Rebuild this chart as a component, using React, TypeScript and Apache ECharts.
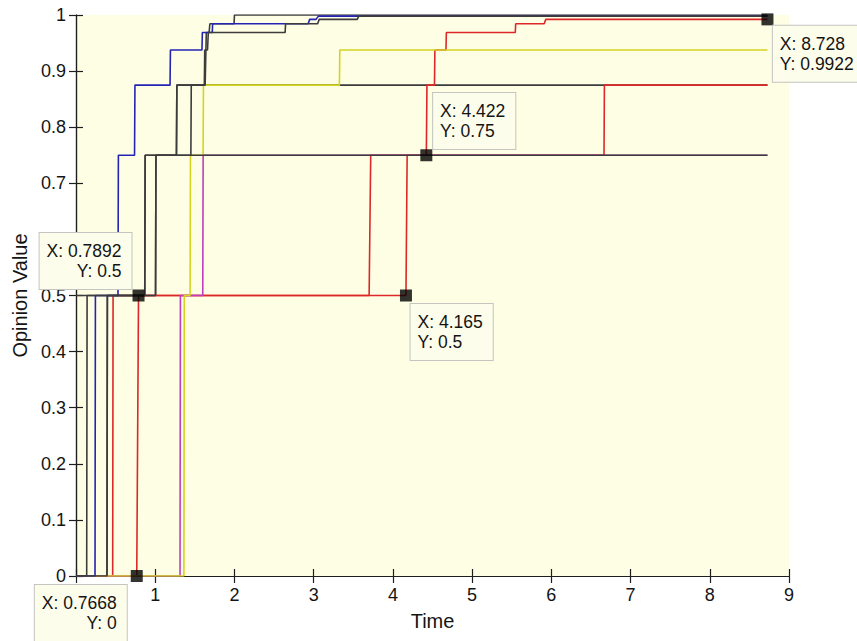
import { useEffect, useRef } from "react";
import * as echarts from "echarts";

type Pt = [number, number];

// Opinion trajectories, sampled as [time, opinion]; each jump is two close samples.
const agentBlue: Pt[] = [
  [0, 0], [0.24, 0], [0.245, 0.5], [0.53, 0.5], [0.535, 0.75], [0.739, 0.75], [0.744, 0.875],
  [1.187, 0.875], [1.192, 0.9375], [1.59, 0.9375], [1.595, 0.96875], [1.72, 0.96875],
  [1.725, 0.984375], [2.93, 0.984375], [2.95, 0.9921875], [3.03, 0.9921875], [3.06, 0.998],
  [8.728, 0.998],
];

const agentGrayA: Pt[] = [
  [0, 0], [0.135, 0], [0.14, 0.5], [0.868, 0.5], [0.873, 0.75], [8.728, 0.75],
];

const agentGrayB: Pt[] = [
  [0, 0], [0.391, 0], [0.396, 0.5], [1.004, 0.5], [1.009, 0.75], [1.268, 0.75],
  [1.273, 0.875], [8.728, 0.875],
];

const agentGrayC: Pt[] = [
  [0, 0], [0.391, 0], [0.396, 0.5], [0.868, 0.5], [0.873, 0.75], [1.45, 0.75],
  [1.455, 0.875], [1.63, 0.875], [1.64, 0.9375], [1.66, 0.9375], [1.67, 0.96875],
  [2.64, 0.96875], [2.645, 0.984375], [3.05, 0.984375], [3.07, 0.9921875],
  [3.55, 0.9921875], [3.57, 0.998], [8.728, 0.998],
];

const agentGrayD: Pt[] = [
  [0, 0.5], [1.004, 0.5], [1.009, 0.75], [1.268, 0.75], [1.273, 0.875], [1.62, 0.875],
  [1.625, 0.9375], [1.64, 0.9375], [1.645, 0.96875], [1.68, 0.96875], [1.69, 0.984375],
  [1.995, 0.984375], [2.0, 1], [8.728, 1],
];

const agentRedA: Pt[] = [
  [0, 0], [0.7668, 0], [0.7892, 0.5], [4.165, 0.5], [4.18, 0.75], [4.422, 0.75],
  [4.43, 0.875], [4.525, 0.875], [4.53, 0.9375], [4.67, 0.9375], [4.675, 0.96875],
  [5.545, 0.96875], [5.55, 0.984375], [5.91, 0.984375], [5.93, 0.9922], [8.728, 0.9922],
];

const agentRedB: Pt[] = [
  [0, 0], [0.463, 0], [0.468, 0.5], [3.7, 0.5], [3.72, 0.75], [6.665, 0.75],
  [6.67, 0.875], [8.728, 0.875],
];

const agentMagenta: Pt[] = [
  [0, 0], [1.313, 0], [1.318, 0.5], [1.6, 0.5], [1.605, 0.75], [8.728, 0.75],
];

const agentYellow: Pt[] = [
  [0, 0], [1.362, 0], [1.367, 0.5], [1.44, 0.5], [1.445, 0.75], [1.604, 0.75],
  [1.609, 0.875], [3.325, 0.875], [3.33, 0.9375], [8.728, 0.9375],
];

// Samples of the red trajectory marked with data tips, and where each tip box sits
// (box corner relative to the marked point, in pixels).
const tipIndices = [1, 2, 3, 5, 15];
const tipSides = ["left", "left", "right", "right", "right"];
const tipOffsets: Pt[] = [
  [-10, 9],
  [-7, -62.5],
  [4.6, 8.5],
  [6.8, -62.3],
  [5.4, 6.3],
];

const xTicks = [0, 1, 2, 3, 4, 5, 6, 7, 8, 9];
const yTicks = [0, 0.1, 0.2, 0.3, 0.4, 0.5, 0.6, 0.7, 0.8, 0.9, 1];

const FONT = "Liberation Sans, Arial, Helvetica, sans-serif";

export default function App() {
  const ref = useRef<HTMLDivElement>(null);

  useEffect(() => {
    if (!ref.current) return;
    const chart = echarts.init(ref.current, undefined, { renderer: "svg" });

    const lineSeries = (data: Pt[], color: string) => ({
      type: "line",
      data,
      showSymbol: false,
      symbol: "none",
      silent: true,
      animation: false,
      z: 2,
      lineStyle: { color, width: 1.6 },
      emphasis: { disabled: true },
    });

    const tipPoints = tipIndices.map((idx) => agentRedA[idx]);

    const axisLine = { show: true, lineStyle: { color: "#1e1e1e", width: 1.2 } };
    const axisTick = { show: true, inside: true, length: 7, lineStyle: { color: "#1e1e1e", width: 1.2 } };

    chart.setOption({
      animation: false,
      backgroundColor: "#ffffff",
      grid: {
        left: 76,
        right: 68,
        top: 15,
        bottom: 65,
        show: true,
        backgroundColor: "#fefee4",
        borderWidth: 0,
      },
      xAxis: [
        {
          type: "value",
          z: 0,
          min: xTicks[0],
          max: xTicks[xTicks.length - 1],
          interval: 1,
          name: "Time",
          nameLocation: "middle",
          nameGap: 35,
          nameTextStyle: { fontFamily: FONT, fontSize: 20, color: "#141414" },
          axisLine,
          axisTick,
          axisLabel: { fontFamily: FONT, fontSize: 18, color: "#141414", margin: 10 },
          splitLine: { show: false },
        },
        {
          type: "value",
          z: 0,
          position: "top",
          min: xTicks[0],
          max: xTicks[xTicks.length - 1],
          interval: 1,
          axisLine,
          axisTick,
          axisLabel: { show: false },
          splitLine: { show: false },
        },
      ],
      yAxis: [
        {
          type: "value",
          z: 0,
          min: yTicks[0],
          max: yTicks[yTicks.length - 1],
          interval: 0.1,
          name: "Opinion Value",
          nameLocation: "middle",
          nameGap: 41,
          nameTextStyle: { fontFamily: FONT, fontSize: 20, color: "#141414" },
          axisLine,
          axisTick,
          axisLabel: {
            fontFamily: FONT,
            fontSize: 18,
            color: "#141414",
            margin: 10,
            formatter: (v: number) => String(Math.round(v * 10) / 10),
          },
          splitLine: { show: false },
        },
        {
          type: "value",
          z: 0,
          position: "right",
          min: yTicks[0],
          max: yTicks[yTicks.length - 1],
          interval: 0.1,
          axisLine,
          axisTick,
          axisLabel: { show: false },
          splitLine: { show: false },
        },
      ],
      series: [
        lineSeries(agentGrayB, "#3c3c3c"),
        lineSeries(agentRedB, "#dc2828"),
        lineSeries(agentRedA, "#dc2828"),
        lineSeries(agentMagenta, "#c03cc0"),
        lineSeries(agentYellow, "#d4d420"),
        lineSeries(agentGrayD, "#3c3c3c"),
        lineSeries(agentBlue, "#2424b4"),
        lineSeries(agentGrayA, "#3c3c3c"),
        lineSeries(agentGrayC, "#3c3c3c"),
        {
          type: "scatter",
          data: tipPoints,
          symbol: "rect",
          symbolSize: 12,
          itemStyle: { color: "#000000" },
          silent: true,
          z: 50,
          clip: false,
        },
      ],
    });

    // Data tip boxes, placed next to the marked samples in pixel space.
    const tipBoxes = tipPoints.map(([x, y], i) => {
      const [px, py] = chart.convertToPixel({ gridIndex: 0 }, [x, y]) as number[];
      const leftSide = tipSides[i] === "left";
      const [dx, dy] = tipOffsets[i];
      return {
        type: "text",
        z: 200,
        zlevel: 0,
        silent: true,
        x: px + dx,
        y: py + dy,
        style: {
          text: `{a|X: ${x}}\n{b|Y: ${y}}`,
          align: leftSide ? "right" : "left",
          verticalAlign: "top",
          backgroundColor: "#fdfdec",
          borderColor: "#c4c4c0",
          borderWidth: 1,
          padding: [8, 10, 8, 7],
          rich: {
            a: { fontFamily: FONT, fontSize: 17.5, fill: "#141414", lineHeight: 20, align: "left" },
            b: {
              fontFamily: FONT,
              fontSize: 17.5,
              fill: "#141414",
              lineHeight: 20,
              align: leftSide ? "right" : "left",
            },
          },
        },
      };
    });

    chart.setOption({ graphic: { elements: tipBoxes } });

    return () => chart.dispose();
  }, []);

  return (
    <div
      ref={ref}
      style={{ position: "fixed", left: 0, top: 0, width: 857, height: 641, background: "#ffffff" }}
    />
  );
}
